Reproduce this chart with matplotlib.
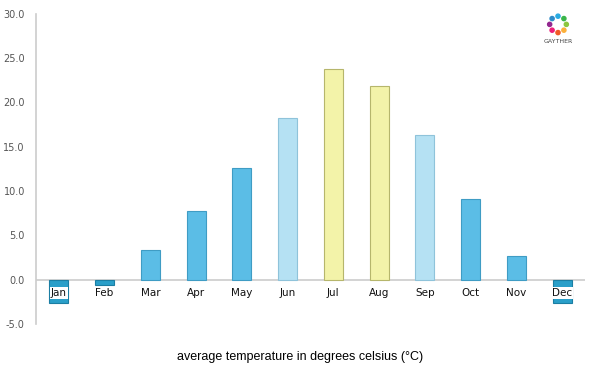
import matplotlib.pyplot as plt
import numpy as np

months = ["Jan", "Feb", "Mar", "Apr", "May", "Jun", "Jul", "Aug", "Sep", "Oct", "Nov", "Dec"]
temps = [-2.6, -0.6, 3.4, 7.7, 12.6, 18.2, 23.8, 21.9, 16.3, 9.1, 2.7, -2.6]
yticks = [-5, 0, 5, 10, 15, 20, 25, 30]


def bar_colors(t):
    if t < 0:
        return "#2a9fc9", "#1b7ea3"
    if t < 15:
        return "#5bbde6", "#3f9cc4"
    if t < 20:
        return "#b5e1f3", "#8fc3da"
    return "#f3f3a9", "#b6b66c"


fig = plt.figure(figsize=(6, 3.75), dpi=100)
ax = fig.add_axes([0.06, 0.136, 0.915, 0.827])

x = np.arange(len(months))
fills = [bar_colors(t)[0] for t in temps]
edges = [bar_colors(t)[1] for t in temps]
ax.bar(x, temps, width=0.42, color=fills, edgecolor=edges, linewidth=0.8, zorder=2)

ax.axhline(0, color="#cccccc", linewidth=1.2, zorder=1)
ax.set_xlim(-0.5, 11.5)
ax.set_ylim(-5, 30)
ax.set_yticks(yticks)
ax.set_yticklabels([f"{v:.1f}" for v in yticks], fontsize=7, color="#555555")
ax.tick_params(axis="y", length=0, pad=8)
ax.tick_params(axis="x", length=0)
ax.set_xticks([])

for s in ["top", "right", "bottom"]:
    ax.spines[s].set_visible(False)
ax.spines["left"].set_color("#cccccc")
ax.spines["left"].set_linewidth(1.2)

for i, m in enumerate(months):
    kw = {}
    if temps[i] < 0:
        kw["bbox"] = dict(facecolor="white", edgecolor="none", pad=0.6)
    ax.text(i, -1.5, m, ha="center", va="center", fontsize=7.5,
            color="#111111", zorder=3, **kw)

fig.text(0.5, 0.048, "average temperature in degrees celsius (°C)",
         ha="center", va="center", fontsize=9, family="Liberation Sans")

# small logo, top right
logo = fig.add_axes([0.905, 0.90, 0.05, 0.07])
ang = np.linspace(0, 2 * np.pi, 9)[:-1]
logo_colors = ["#8cc63f", "#39b54a", "#29abe2", "#2e8bc9", "#93278f", "#ed1e79", "#f15a24", "#fbb03b"]
logo.scatter(np.cos(ang), np.sin(ang), s=9, c=logo_colors)
logo.set_xlim(-1.8, 1.8)
logo.set_ylim(-1.6, 1.6)
logo.axis("off")
fig.text(0.93, 0.89, "GAYTHER", ha="center", va="center", fontsize=4.5, color="#444444")

fig.savefig("out.png", dpi=100, facecolor="white")
